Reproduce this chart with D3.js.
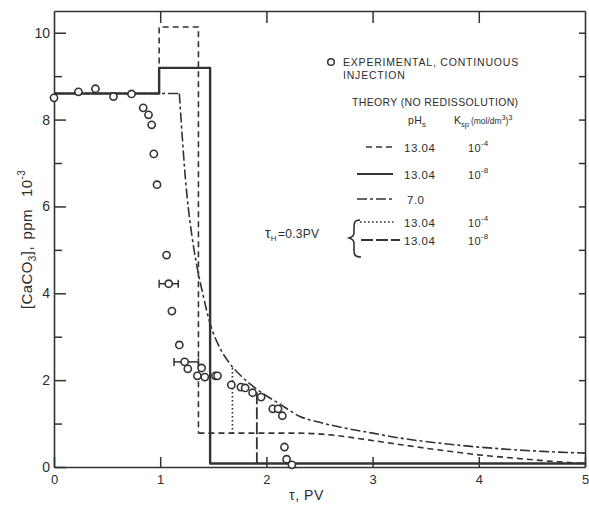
<!DOCTYPE html>
<html>
<head>
<meta charset="utf-8">
<script src="https://cdn.jsdelivr.net/npm/d3@7"></script>
<style>
  body { margin: 0; background: #fff; }
  svg { display: block; }
  text { font-family: "Liberation Sans", Arial, sans-serif; fill: #2d2d2d; }
</style>
</head>
<body>
<svg id="chart" width="589" height="506"></svg>
<script>
// ---- axis ticks ----
const xTicks = [0, 1, 2, 3, 4, 5];
const yMajor = [0, 2, 4, 6, 8, 10];
const yMinor = [1, 3, 5, 7, 9];
const yRight = [1, 2, 3, 4, 5, 6, 7, 8, 9, 10];
const xTop = [1, 2, 3, 4];

// ---- experimental effluent concentrations, continuous injection ----
const expTau = [0.00, 0.23, 0.39, 0.56, 0.73, 0.84, 0.89, 0.92, 0.94, 0.97,
                1.06, 1.08, 1.11, 1.18, 1.23, 1.26, 1.35, 1.39, 1.42, 1.52,
                1.54, 1.67, 1.76, 1.80, 1.87, 1.95, 2.06, 2.11, 2.15, 2.17,
                2.19, 2.24];
const expConc = [8.50, 8.64, 8.71, 8.53, 8.59, 8.27, 8.11, 7.88, 7.21, 6.50,
                 4.88, 4.22, 3.59, 2.81, 2.42, 2.26, 2.10, 2.28, 2.07, 2.10,
                 2.10, 1.89, 1.84, 1.82, 1.71, 1.61, 1.34, 1.34, 1.18, 0.46,
                 0.18, 0.05];
// horizontal error bars: [tau low, tau high, conc]
const errBars = [[0.99, 1.17, 4.22], [1.13, 1.36, 2.42]];

// ---- theory (no redissolution) ----
// pHs 13.04, Ksp 1e-4 (dashed)
const dashedStep = [[0.99, 8.60], [0.99, 10.13], [1.36, 10.13], [1.36, 0.78]];
const dashedTail = [[1.36, 0.78], [2.30, 0.78], [2.60, 0.74], [2.94, 0.63], [3.25, 0.52],
                    [3.60, 0.40], [4.00, 0.28], [4.40, 0.19], [4.80, 0.11], [5.00, 0.08]];
// pHs 13.04, Ksp 1e-8 (solid)
const solidPath = [[0, 8.60], [0.99, 8.60], [0.99, 9.19], [1.47, 9.19], [1.47, 0.08], [5.00, 0.08]];
// pHs 7.0 (dash-dot)
const dashDotFlat = [[0, 8.60], [1.18, 8.60]];
const dashDotTail = [[1.18, 8.60], [1.25, 6.30], [1.30, 5.30], [1.34, 4.70], [1.40, 4.00],
                     [1.47, 3.30], [1.55, 2.80], [1.65, 2.40], [1.76, 2.10], [1.95, 1.72],
                     [2.12, 1.46], [2.31, 1.17], [2.50, 1.03], [2.69, 0.92], [3.00, 0.78],
                     [3.25, 0.67], [3.70, 0.53], [4.20, 0.42], [4.60, 0.36], [5.00, 0.32]];
// tau_H = 0.3 PV, pHs 13.04: Ksp 1e-4 (dotted) and Ksp 1e-8 (long dash)
const tauDotted = [[1.68, 2.28], [1.68, 0.78]];
const tauLong = [[1.91, 1.72], [1.91, 0.08]];

const styles = {
  dashed:   { dash: "6,4",        width: 1.6 },
  solid:    { dash: null,         width: 2.4 },
  dashdot:  { dash: "10,3,3,3",   width: 1.6 },
  dotted:   { dash: "1.6,2.4",    width: 1.7 },
  longdash: { dash: "12,3",       width: 1.8 }
};
const ink = "#333";

const svg = d3.select("#chart");
const x = d3.scaleLinear().domain([0, 5]).range([54, 585]);
const y = d3.scaleLinear().domain([0, 10.5]).range([467, 11]);

// ---- frame and ticks ----
function styleAxis(g) {
  g.selectAll("path.domain").attr("stroke", ink).attr("stroke-width", 1.6);
  g.selectAll(".tick line").attr("stroke", ink).attr("stroke-width", 1.5);
  g.selectAll(".tick text").attr("fill", "#2d2d2d")
    .style("font-family", "'Liberation Sans', Arial, sans-serif");
}

svg.append("g")
  .attr("transform", `translate(0,${y(0)})`)
  .call(d3.axisBottom(x).tickValues(xTicks).tickSizeInner(-10).tickSizeOuter(0)
        .tickPadding(8).tickFormat(d3.format("d")))
  .call(styleAxis)
  .call(g => g.selectAll(".tick text").attr("font-size", 13));

svg.append("g")
  .attr("transform", `translate(${x(0)},0)`)
  .call(d3.axisLeft(y).tickValues(yMajor).tickSizeInner(-12).tickSizeOuter(0)
        .tickPadding(4).tickFormat(d3.format("d")))
  .call(styleAxis)
  .call(g => g.selectAll(".tick text").attr("font-size", 14));

svg.append("g")
  .attr("transform", `translate(${x(0)},0)`)
  .call(d3.axisLeft(y).tickValues(yMinor).tickSizeInner(-8).tickSizeOuter(0).tickFormat(""))
  .call(styleAxis)
  .call(g => g.select("path.domain").remove());

svg.append("g")
  .attr("transform", `translate(0,${y(10.5)})`)
  .call(d3.axisTop(x).tickValues(xTop).tickSizeInner(-12).tickSizeOuter(0).tickFormat(""))
  .call(styleAxis);

svg.append("g")
  .attr("transform", `translate(${x(5)},0)`)
  .call(d3.axisRight(y).tickValues(yRight).tickSizeInner(-6).tickSizeOuter(0).tickFormat(""))
  .call(styleAxis);

// ---- theory curves ----
const lineLin = d3.line().x(d => x(d[0])).y(d => y(d[1]));
const lineSmooth = d3.line().x(d => x(d[0])).y(d => y(d[1])).curve(d3.curveMonotoneX);

function drawPath(data, gen, st) {
  svg.append("path")
    .attr("d", gen(data))
    .attr("fill", "none")
    .attr("stroke", ink)
    .attr("stroke-width", st.width)
    .attr("stroke-dasharray", st.dash)
    .attr("stroke-linejoin", "round");
}

drawPath(solidPath, lineLin, styles.solid);
drawPath(dashedStep, lineLin, styles.dashed);
drawPath(dashedTail, lineSmooth, styles.dashed);
drawPath(dashDotFlat, lineLin, styles.dashdot);
drawPath(dashDotTail, lineSmooth, styles.dashdot);
drawPath(tauDotted, lineLin, styles.dotted);
drawPath(tauLong, lineLin, styles.longdash);

// ---- experimental points ----
const errG = svg.append("g").attr("stroke", ink).attr("stroke-width", 1.5);
errBars.forEach(([lo, hi, c]) => {
  errG.append("line").attr("x1", x(lo)).attr("x2", x(hi)).attr("y1", y(c)).attr("y2", y(c));
  errG.append("line").attr("x1", x(lo)).attr("x2", x(lo)).attr("y1", y(c) - 4).attr("y2", y(c) + 4);
  errG.append("line").attr("x1", x(hi)).attr("x2", x(hi)).attr("y1", y(c) - 4).attr("y2", y(c) + 4);
});

svg.append("g").selectAll("circle")
  .data(expTau.map((t, i) => [t, expConc[i]]))
  .join("circle")
  .attr("cx", d => x(d[0]))
  .attr("cy", d => y(d[1]))
  .attr("r", 3.6)
  .attr("fill", "#fff")
  .attr("stroke", ink)
  .attr("stroke-width", 1.6);

// ---- axis titles ----
svg.append("text")
  .attr("x", 289).attr("y", 500)
  .attr("font-size", 14)
  .style("letter-spacing", "0.6px")
  .text("τ, PV");

const yt = svg.append("text")
  .attr("transform", "translate(32,309) rotate(-90)")
  .attr("font-size", 15)
  .style("letter-spacing", "0.4px");
yt.append("tspan").text("[CaCO");
yt.append("tspan").attr("font-size", 10).attr("dy", 4).text("3");
yt.append("tspan").attr("dy", -4).text("]");
yt.append("tspan").text(", ");
yt.append("tspan").attr("dx", 2).text("ppm");
yt.append("tspan").attr("dx", 12).text("10");
yt.append("tspan").attr("font-size", 10).attr("dy", -7).text("-3");

// ---- legend ----
const leg = svg.append("g").attr("font-size", 10.5).style("letter-spacing", "0.8px");

svg.append("circle").attr("cx", 331).attr("cy", 62).attr("r", 3.3)
  .attr("fill", "#fff").attr("stroke", ink).attr("stroke-width", 1.5);
leg.append("text").attr("x", 343).attr("y", 66).text("EXPERIMENTAL, CONTINUOUS");
leg.append("text").attr("x", 343).attr("y", 79).text("INJECTION");
leg.append("text").attr("x", 352).attr("y", 106).style("letter-spacing", "0.35px")
  .text("THEORY (NO REDISSOLUTION)");

const ph = leg.append("text").attr("x", 408).attr("y", 124).style("letter-spacing", "0.3px");
ph.append("tspan").text("pH");
ph.append("tspan").attr("font-size", 8).attr("dy", 3).text("s");

const ksp = leg.append("text").attr("x", 454).attr("y", 124).style("letter-spacing", "0px");
ksp.append("tspan").text("K");
ksp.append("tspan").attr("font-size", 7.5).attr("dy", 3).text("sp");
ksp.append("tspan").attr("font-size", 8.5).attr("dy", -3).attr("dx", 2).text("(mol/dm");
ksp.append("tspan").attr("font-size", 7).attr("dy", -4).text("3");
ksp.append("tspan").attr("font-size", 8.5).attr("dy", 4).text(")");
ksp.append("tspan").attr("font-size", 7).attr("dy", -4).text("3");

const legendRows = [
  { style: "dashed",   x1: 366, x2: 395, y: 147, ph: "13.04", k: "-4" },
  { style: "solid",    x1: 357, x2: 393, y: 174, ph: "13.04", k: "-8" },
  { style: "dashdot",  x1: 357, x2: 393, y: 199, ph: "7.0",   k: null },
  { style: "dotted",   x1: 360, x2: 394, y: 222, ph: "13.04", k: "-4" },
  { style: "longdash", x1: 361, x2: 400, y: 240, ph: "13.04", k: "-8" }
];

legendRows.forEach(r => {
  const st = styles[r.style];
  svg.append("line")
    .attr("x1", r.x1).attr("x2", r.x2).attr("y1", r.y).attr("y2", r.y)
    .attr("stroke", ink).attr("stroke-width", Math.min(st.width, 2))
    .attr("stroke-dasharray", st.dash);
  leg.append("text").attr("x", r.ph === "7.0" ? 407 : 404).attr("y", r.y + 4.5)
    .attr("font-size", 11.5).style("letter-spacing", "0.5px").text(r.ph);
  if (r.k) {
    const t = leg.append("text").attr("x", 468).attr("y", r.y + 5)
      .attr("font-size", 11).style("letter-spacing", "0.3px");
    t.append("tspan").text("10");
    t.append("tspan").attr("font-size", 8).attr("dy", -6).text(r.k);
  }
});

// tau_H bracket label
const th = leg.append("text").attr("x", 265).attr("y", 238).attr("font-size", 12)
  .style("letter-spacing", "0.3px");
th.append("tspan").attr("font-size", 14).text("τ");
th.append("tspan").attr("font-size", 8).attr("dy", 3).text("H");
th.append("tspan").attr("dy", -3).attr("dx", 1).text("=0.3PV");

svg.append("path")
  .attr("d", "M360,220 C354,220 354,223 354,228 L354,233 C354,236 352,237 349,238 C352,239 354,240 354,243 L354,250 C354,255 355,257 361,257")
  .attr("fill", "none").attr("stroke", ink).attr("stroke-width", 1.6);
</script>
</body>
</html>
